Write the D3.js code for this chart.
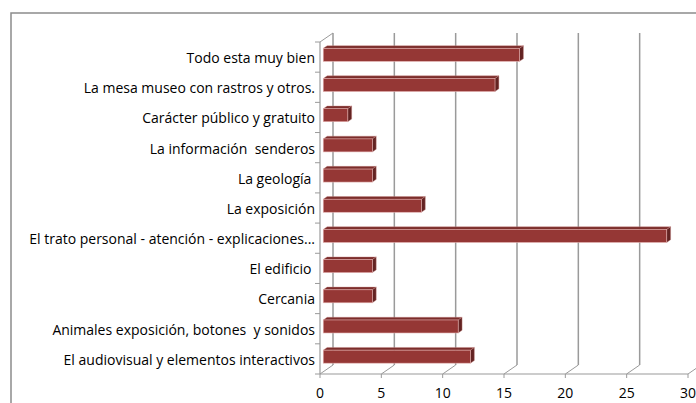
<!DOCTYPE html>
<html><head><meta charset="utf-8">
<script src="https://cdn.jsdelivr.net/npm/d3@7"></script>
<style>body{margin:0;background:#fff}svg{display:block}</style>
</head><body>
<script>
const categories = [
  "Todo esta muy bien",
  "La mesa museo con rastros y otros.",
  "Carácter público y gratuito",
  "La información  senderos",
  "La geología ",
  "La exposición",
  "El trato personal - atención - explicaciones...",
  "El edificio ",
  "Cercania",
  "Animales exposición, botones  y sonidos",
  "El audiovisual y elementos interactivos"
];
const values = [16, 14, 2, 4, 4, 8, 28, 4, 4, 11, 12];
const xTicks = [0, 5, 10, 15, 20, 25, 30];

const W = 696, H = 403;
const svg = d3.select("body").append("svg").attr("width", W).attr("height", H);

// outer frame
svg.append("rect").attr("x", 11).attr("y", 13).attr("width", 720).attr("height", 420)
  .attr("fill", "none").attr("stroke", "#8c8c8c").attr("stroke-width", 1.5);

const x = d3.scaleLinear().domain([0, 30]).range([320, 688]);
const y = d3.scaleBand().domain(categories).range([42, 374]).paddingInner(0).paddingOuter(0);
const dX = 13, dY = -9; // depth vector
const grid = "#9a9a9a";

// back wall gridlines
svg.append("g").selectAll("line").data(xTicks).join("line")
  .attr("x1", d => x(d) + dX).attr("x2", d => x(d) + dX)
  .attr("y1", 42 + dY).attr("y2", 374 + dY)
  .attr("stroke", grid).attr("stroke-width", 1.5);
// floor slants
svg.append("g").selectAll("line").data(xTicks).join("line")
  .attr("x1", d => x(d)).attr("x2", d => x(d) + dX)
  .attr("y1", 374).attr("y2", 374 + dY)
  .attr("stroke", grid).attr("stroke-width", 1);
// front x axis line
svg.append("line").attr("x1", x(0)).attr("x2", x(30)).attr("y1", 374).attr("y2", 374)
  .attr("stroke", grid).attr("stroke-width", 1.2);
svg.append("g").selectAll("line").data(xTicks).join("line")
  .attr("x1", d => x(d)).attr("x2", d => x(d)).attr("y1", 374).attr("y2", 378)
  .attr("stroke", grid).attr("stroke-width", 1);
// left wall
svg.append("line").attr("x1", x(0)).attr("x2", x(0)).attr("y1", 42).attr("y2", 374)
  .attr("stroke", grid).attr("stroke-width", 1.2);
svg.append("line").attr("x1", x(0)).attr("x2", x(0) + dX).attr("y1", 42).attr("y2", 42 + dY)
  .attr("stroke", grid).attr("stroke-width", 1);
const yTickPos = categories.map(c => y(c)).concat([374]);
svg.append("g").selectAll("line").data(yTickPos).join("line")
  .attr("x1", x(0) - 5).attr("x2", x(0)).attr("y1", d => d).attr("y2", d => d)
  .attr("stroke", grid).attr("stroke-width", 1);

// bars
const f1 = 0.25, f2 = 0.55;
const bh = 13;
const bars = svg.append("g").selectAll("g").data(categories).join("g");
bars.each(function (c, i) {
  const g = d3.select(this);
  const v = values[i];
  const ox = dX * f1, oy = dY * f1;
  const bx = dX * (f2 - f1), by = dY * (f2 - f1);
  const x0 = x(0) + ox, x1 = x(v) + ox;
  const yc = y(c) + y.bandwidth() / 2 + oy;
  const y0 = yc - bh / 2, y1 = yc + bh / 2;
  g.append("path").attr("d", `M${x0},${y0}L${x1},${y0}L${x1 + bx},${y0 + by}L${x0 + bx},${y0 + by}Z`)
    .attr("fill", "#7b2d2b").attr("stroke", "#c98a89").attr("stroke-width", 0.4);
  g.append("path").attr("d", `M${x1},${y0}L${x1 + bx},${y0 + by}L${x1 + bx},${y1 + by}L${x1},${y1}Z`)
    .attr("fill", "#632322").attr("stroke", "#c98a89").attr("stroke-width", 0.4);
  g.append("rect").attr("x", x0).attr("y", y0).attr("width", x1 - x0).attr("height", bh)
    .attr("fill", "#953735").attr("stroke", "#e2b0af").attr("stroke-width", 0.6);
});

// category labels
svg.append("g").selectAll("text").data(categories).join("text")
  .attr("x", 315).attr("y", c => y(c) + y.bandwidth() / 2 + 1)
  .attr("dy", "0.35em").attr("text-anchor", "end")
  .attr("font-family", "'Open Sans', sans-serif").attr("font-size", 14)
  .attr("fill", "#000").style("white-space", "pre").text(c => c);

// x tick labels
svg.append("g").selectAll("text").data(xTicks).join("text")
  .attr("x", d => x(d)).attr("y", 393).attr("dy", "0.35em").attr("text-anchor", "middle")
  .attr("font-family", "'Open Sans', sans-serif").attr("font-size", 14)
  .attr("fill", "#000").text(d => d);
</script>
</body></html>
